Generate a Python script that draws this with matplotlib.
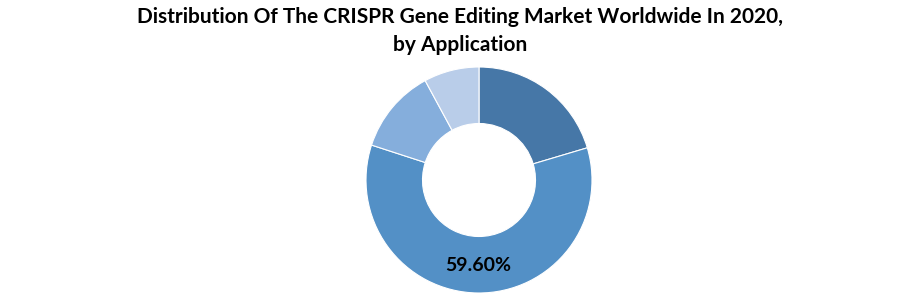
import matplotlib.pyplot as plt
import numpy as np

# application shares (%), clockwise from 12 o'clock
segments = ['Seg A', 'Seg B', 'Seg C', 'Seg D']
shares = [20.4, 59.6, 12.1, 7.9]
colors = ['#4677A7', '#5390C6', '#85AEDC', '#B9CDE9']
shown = [False, True, False, False]  # only the big slice carries a label

title = 'Distribution Of The CRISPR Gene Editing Market Worldwide In 2020,\nby Application'

plt.rcParams['font.family'] = ['Lato', 'DejaVu Sans']

fig = plt.figure(figsize=(9.21, 2.94), dpi=100)
ax = fig.add_axes([366 / 921, 1 / 294, 226 / 921, 226 / 294])

wedges, _ = ax.pie(shares, colors=colors, startangle=90, counterclock=False,
                   radius=1, wedgeprops=dict(width=0.5, edgecolor='white', linewidth=0.8))

# label for the big slice, placed inside the ring
for w, val, show in zip(wedges, shares, shown):
    if not show:
        continue
    ang = np.deg2rad((w.theta1 + w.theta2) / 2)
    r = 0.76
    ax.text(r * np.cos(ang), r * np.sin(ang), '%.2f%%' % val, ha='center', va='center',
            fontsize=14, fontweight='bold', color='black')

ax.set_xlim(-1, 1)
ax.set_ylim(-1, 1)
ax.set_aspect('equal')
ax.axis('off')

fig.text(460 / 921, 1 - 31 / 294, title, ha='center', va='center', fontsize=15,
         fontweight='bold', linespacing=1.5)

fig.savefig('out.png', dpi=100)
